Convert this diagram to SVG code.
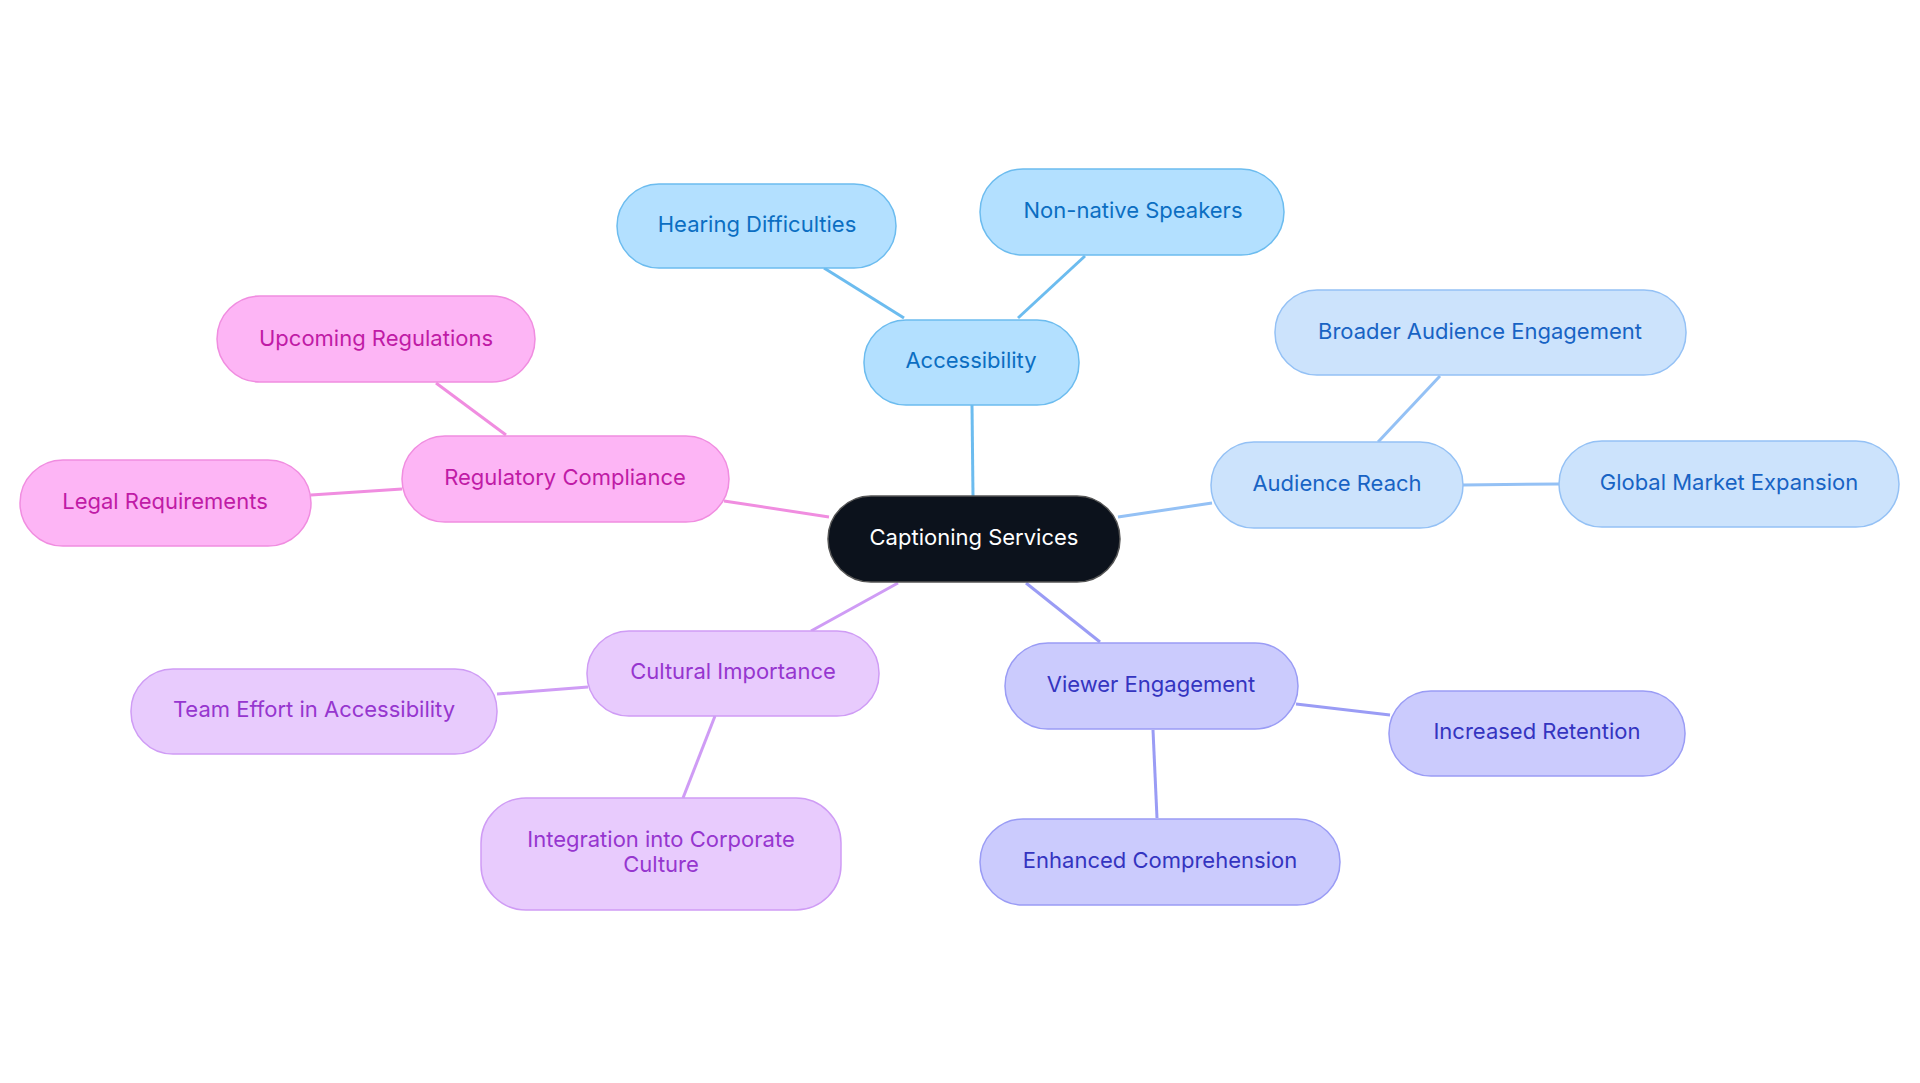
<svg xmlns="http://www.w3.org/2000/svg" width="1920" height="1083" viewBox="0 0 1920 1083">
<style>
text{font-family:Inter,"Noto Sans",sans-serif;font-size:22px;text-anchor:middle;dominant-baseline:central}
rect{stroke-width:1.5}
line{stroke-width:3}
.a rect{fill:#b3e0ff;stroke:#6cbcef}.a text{fill:#0b6ec2}
.r rect{fill:#cce3fc;stroke:#94c1f5}.r text{fill:#1863c4}
.v rect{fill:#cbcbfd;stroke:#9a9cf5}.v text{fill:#3434c0}
.c rect{fill:#e8cbfd;stroke:#cf9cf5}.c text{fill:#9636cf}
.g rect{fill:#fdb5f5;stroke:#f08de0}.g text{fill:#c01ba6}
</style>
<rect width="1920" height="1083" fill="#fff"/>
<g id="connectors">
<line x1="973" y1="496" x2="972" y2="405" stroke="#6cbcef"/>
<line x1="904" y1="318" x2="824" y2="268" stroke="#6cbcef"/>
<line x1="1018" y1="318" x2="1085" y2="256" stroke="#6cbcef"/>
<line x1="1118" y1="517" x2="1212" y2="503" stroke="#94c1f5"/>
<line x1="1378" y1="442" x2="1440" y2="376" stroke="#94c1f5"/>
<line x1="1463" y1="485" x2="1559" y2="484" stroke="#94c1f5"/>
<line x1="1026" y1="583" x2="1100" y2="642" stroke="#9a9cf5"/>
<line x1="1296" y1="704" x2="1390" y2="715" stroke="#9a9cf5"/>
<line x1="1153" y1="730" x2="1157" y2="818" stroke="#9a9cf5"/>
<line x1="898" y1="583" x2="811" y2="631" stroke="#cf9cf5"/>
<line x1="588" y1="687" x2="497" y2="694" stroke="#cf9cf5"/>
<line x1="715" y1="716" x2="683" y2="798" stroke="#cf9cf5"/>
<line x1="829" y1="517" x2="724" y2="501" stroke="#f08de0"/>
<line x1="506" y1="435" x2="436" y2="383" stroke="#f08de0"/>
<line x1="402" y1="489" x2="311" y2="495" stroke="#f08de0"/>
</g>
<g id="center"><rect x="828" y="496" width="292" height="86" rx="43" fill="#0c121c" stroke="#555" stroke-width="1.5"/><text x="974" y="537" fill="#fff">Captioning Services</text></g>
<g id="accessibility" class="a"><rect x="864" y="320" width="215" height="85" rx="42"/><text x="971" y="360">Accessibility</text></g>
<g id="hearing" class="a"><rect x="617" y="184" width="279" height="84" rx="42"/><text x="757" y="224">Hearing Difficulties</text></g>
<g id="nonnative" class="a"><rect x="980" y="169" width="304" height="86" rx="43"/><text x="1133" y="210">Non-native Speakers</text></g>
<g id="reach" class="r"><rect x="1211" y="442" width="252" height="86" rx="43"/><text x="1337" y="483">Audience Reach</text></g>
<g id="broader" class="r"><rect x="1275" y="290" width="411" height="85" rx="42"/><text x="1480" y="331">Broader Audience Engagement</text></g>
<g id="global" class="r"><rect x="1559" y="441" width="340" height="86" rx="43"/><text x="1729" y="482">Global Market Expansion</text></g>
<g id="viewer" class="v"><rect x="1005" y="643" width="293" height="86" rx="43"/><text x="1151" y="684">Viewer Engagement</text></g>
<g id="retention" class="v"><rect x="1389" y="691" width="296" height="85" rx="42"/><text x="1537" y="731">Increased Retention</text></g>
<g id="comprehension" class="v"><rect x="980" y="819" width="360" height="86" rx="43"/><text x="1160" y="860">Enhanced Comprehension</text></g>
<g id="cultural" class="c"><rect x="587" y="631" width="292" height="85" rx="42"/><text x="733" y="671">Cultural Importance</text></g>
<g id="team" class="c"><rect x="131" y="669" width="366" height="85" rx="42"/><text x="314" y="709">Team Effort in Accessibility</text></g>
<g id="integration" class="c"><rect x="481" y="798" width="360" height="112" rx="45"/><text x="661" y="839">Integration into Corporate</text><text x="661" y="864">Culture</text></g>
<g id="regulatory" class="g"><rect x="402" y="436" width="327" height="86" rx="43"/><text x="565" y="477">Regulatory Compliance</text></g>
<g id="upcoming" class="g"><rect x="217" y="296" width="318" height="86" rx="43"/><text x="376" y="338">Upcoming Regulations</text></g>
<g id="legal" class="g"><rect x="20" y="460" width="291" height="86" rx="43"/><text x="165" y="501">Legal Requirements</text></g>
</svg>
